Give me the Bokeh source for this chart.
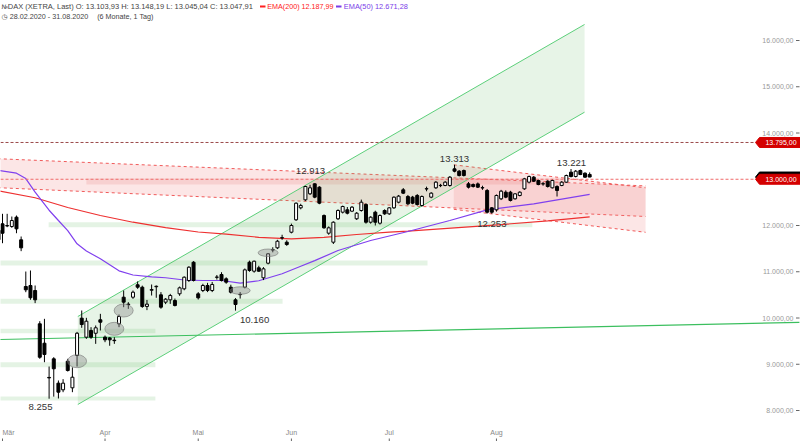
import pandas as pd
from bokeh.plotting import figure
from bokeh.models import ColumnDataSource, Range1d
from bokeh.core.properties import value
from bokeh.embed import file_html
from bokeh.resources import INLINE

# ---------------- data ----------------
HOLIDAYS = ["2020-04-10", "2020-04-13", "2020-05-01", "2020-06-01"]
dates = [d for d in pd.bdate_range("2020-02-28", "2020-08-31")
         if d.strftime("%Y-%m-%d") not in HOLIDAYS]

opens = [11700, 12036, 11990, 11978, 12180, 11690, 10681, 10703, 10594, 9874,
         9455, 8715, 9117, 8591, 8447, 9066, 8490, 9189, 9996, 9585,
         9730, 9670, 9961, 9585, 9570, 9520, 9874, 10450, 10300, 10450,
         10718, 10666, 10250, 10600, 10676, 10501, 10342, 10393, 10378, 10523,
         10631, 10811, 11206, 10522, 10594, 10703, 10594, 10880, 10940, 10847,
         10666, 10393, 10505, 10666, 11206, 11012, 11085, 10869, 11185, 11470,
         11517, 11730, 11639, 11855, 12123, 12382, 12555, 12685, 12901, 12829,
         12216, 11834, 11639, 12145, 12288, 12339, 12310, 12145, 12324, 12454,
         12071, 12288, 12050, 12324, 12252, 12382, 12504, 12771, 12627, 12613,
         12649, 12432, 12790, 12613, 12815, 12862, 12865, 12865, 13225, 13174,
         13189, 12901, 12886, 12900, 12812, 12757, 12382, 12339, 12577, 12720,
         12720, 12577, 12649, 12793, 12937, 13045, 12973, 12898, 12958, 12815,
         12843, 12865, 12937, 13153, 13059, 13189, 13131, 13103.93]
highs = [12000, 12253, 12253, 12194, 12216, 11762, 11005, 11027, 10703, 9931,
         9982, 8951, 9153, 8649, 8678, 9117, 8933, 9700, 10162, 10004,
         9802, 9838, 10090, 9621, 9585, 9585, 10076, 10594, 10342, 10594,
         10790, 10700, 10390, 10724, 10703, 10560, 10430, 10522, 10420, 10680,
         10900, 11120, 11230, 10560, 10740, 10760, 10780, 10930, 10990, 10880,
         10720, 10430, 10560, 11070, 11240, 11240, 11130, 11100, 11400, 11530,
         11690, 11800, 11680, 12040, 12500, 12470, 12860, 12880, 12913, 12850,
         12240, 11980, 12090, 12350, 12430, 12400, 12420, 12290, 12560, 12480,
         12200, 12320, 12240, 12350, 12400, 12630, 12660, 12810, 12660, 12640,
         12680, 12650, 12840, 12720, 12960, 12900, 12960, 13070, 13313, 13200,
         13210, 12940, 12910, 12930, 12860, 12790, 12400, 12670, 12770, 12760,
         12750, 12700, 12740, 13030, 13080, 13070, 12990, 12940, 12980, 12990,
         12870, 12960, 13100, 13221, 13200, 13210, 13150, 13148.19]
lows = [11620, 11617, 11964, 11950, 11833, 11445, 10558, 10393, 10321, 9118,
        9044, 8255, 8300, 8260, 8396, 8842, 8396, 8950, 9788, 9549,
        9549, 9441, 9730, 9477, 9400, 9441, 9802, 10234, 10198, 10414,
        10630, 10220, 10170, 10486, 10437, 10200, 10300, 10306, 10250, 10480,
        10600, 10780, 10790, 10400, 10560, 10560, 10560, 10830, 10790, 10740,
        10530, 10160, 10420, 10640, 11000, 10980, 11000, 10820, 11160, 11420,
        11490, 11690, 11560, 11830, 12100, 12350, 12530, 12660, 12590, 12460,
        11930, 11800, 11600, 12120, 12260, 12240, 12290, 12120, 12300, 12040,
        12040, 12000, 12020, 12230, 12230, 12360, 12480, 12680, 12440, 12460,
        12430, 12410, 12740, 12590, 12790, 12830, 12850, 12840, 13150, 13060,
        13060, 12800, 12820, 12810, 12770, 12260, 12253, 12300, 12550, 12590,
        12520, 12560, 12630, 12770, 12910, 12940, 12870, 12860, 12820, 12800,
        12627, 12850, 12920, 13040, 13040, 13090, 13030, 13045.04]
closes = [11890, 11833, 12000, 12108, 11928, 11517, 10609, 10437, 10393, 9152,
          9211, 8705, 8902, 8396, 8591, 8865, 8720, 9670, 9859, 9931,
          9585, 9788, 9909, 9528, 9528, 9510, 10032, 10342, 10290, 10558,
          10666, 10248, 10300, 10615, 10686, 10234, 10407, 10486, 10270, 10652,
          10882, 11098, 10811, 10436, 10703, 10594, 10725, 10885, 10811, 10775,
          10558, 10292, 10510, 11041, 11027, 11228, 11012, 11063, 11388, 11478,
          11660, 11738, 11589, 12000, 12482, 12432, 12843, 12815, 12613, 12483,
          11950, 11950, 12071, 12324, 12411, 12266, 12396, 12266, 12504, 12071,
          12180, 12071, 12216, 12252, 12382, 12612, 12635, 12699, 12468, 12483,
          12454, 12627, 12796, 12699, 12937, 12868, 12937, 13045, 13174, 13081,
          13081, 12829, 12843, 12829, 12818, 12288, 12288, 12649, 12742, 12613,
          12541, 12685, 12720, 13009, 13059, 12958, 12886, 12904, 12843, 12973,
          12757, 12937, 13081, 13059, 13174, 13102, 13045, 13047.91]

ema200_bar = [0, 8, 15, 22, 29, 36, 43, 49, 56, 63, 70, 77, 84, 88, 98, 108, 118, 127]
ema200_val = [12750, 12600, 12390, 12216, 12071, 11955, 11860, 11815, 11745, 11712,
              11745, 11805, 11855, 11880, 11950, 12021, 12100, 12187.99]
ema50_bar = [0, 4, 6, 8, 11, 13, 15, 17, 19, 22, 26, 29, 33, 36, 40, 44, 48, 52,
             56, 61, 65, 68, 73, 80, 88, 97, 105, 115, 127]
ema50_val = [13196, 13131, 13015, 12720, 12330, 12108, 11890, 11604, 11450, 11280,
             11020, 10930, 10890, 10870, 10822, 10811, 10811, 10753, 10805, 10956,
             11120, 11240, 11459, 11675, 11870, 12108, 12339, 12469, 12671.28]

y_ticks = [8000, 9000, 10000, 11000, 12000, 13000, 14000, 15000, 16000]
month_names = {3: "Mär", 4: "Apr", 5: "Mai", 6: "Jun", 7: "Jul", 8: "Aug"}

# analyst drawings (bar index, price)
green_channel_bar = [17.16, 125.9]
green_channel_upper = [10032, 16346]
green_channel_lower = [8130, 14450]
red_channel_bar = [0, 139.0]
red_channel_upper = [13444, 12856]
red_channel_lower = [12818, 12195]
red_channel2_bar = [97.85, 139.0]
red_channel2_upper = [13312, 12815]
red_channel2_lower = [12350, 11853]
pink_zone_bar = [19.0, 121.8]
pink_zone_val = [12886, 13016]
zone_left = [10.9, -1, -1, -1, -1, -1]
zone_right = [114.7, 92.2, 61.1, 33.8, 33.8, 33.8]
zone_top = [12071, 11243, 10415, 9766, 9044, 8303]
zone_bottom = [11963, 11135, 10307, 9671, 8936, 8216]
trend_bar = [0, 172]
trend_val = [9534, 9906]
levels = [13795, 13000]
ellipse_bar = [17, 25, 27, 52, 58]
ellipse_val = [9066, 9766, 10162, 10594, 11410]
ellipse_w_px = [19, 19, 19, 20, 20]
ellipse_h_px = [13, 13, 13, 7.5, 7.5]
ann_bar = [11, 51, 68, 98, 106, 123]
ann_kind = ["low", "low", "high", "high", "low", "high"]
ann_dbar = [-1.85, 4.1, -0.9, 0.0, 0.0, 0.1]
ann_dpx = [8.5, 9.0, 11.8, 6.0, 10.7, 6.3]

# ---------------- layout helpers (reference pixel -> data) ----------------
W, H = 800, 441
X0_PX, BAR_PX = -2.66, 4.66
Y8000_PX, PX_PER_PT = 410.0, 0.04625


def px2i(px):
    return (px - X0_PX) / BAR_PX


def py2v(py):
    return 8000 + (Y8000_PX - py) / PX_PER_PT


def dpx(px):
    return px / PX_PER_PT


def de(v, dec=2):
    s = f"{v:,.{dec}f}"
    return s.replace(",", "X").replace(".", ",").replace("X", ".")


FONT = value("Liberation Sans")

p = figure(width=W, height=H, x_range=Range1d(px2i(0), px2i(W)),
           y_range=Range1d(py2v(H), py2v(0)), toolbar_location=None,
           output_backend="svg", x_axis_location=None, y_axis_location=None,
           min_border=0, min_border_left=0, min_border_right=0,
           min_border_top=0, min_border_bottom=0)
p.xgrid.visible = False
p.ygrid.visible = False
p.outline_line_color = None
p.background_fill_color = "white"

# red channels
for bars, up, lo in [(red_channel_bar, red_channel_upper, red_channel_lower),
                     (red_channel2_bar, red_channel2_upper, red_channel2_lower)]:
    p.patch([bars[0], bars[1], bars[1], bars[0]], [up[0], up[1], lo[1], lo[0]],
            fill_color="#f08080", fill_alpha=0.2, line_color=None)
    p.line(bars, up, line_color="#f05a5a", line_dash="3 3", line_width=1)
    p.line(bars, lo, line_color="#f05a5a", line_dash="3 3", line_width=1)
p.quad(left=[pink_zone_bar[0]], right=[pink_zone_bar[1]], bottom=[pink_zone_val[0]],
       top=[pink_zone_val[1]], fill_color="#e06060", fill_alpha=0.16, line_color=None)

# green channel
gb = green_channel_bar
p.patch([gb[0], gb[1], gb[1], gb[0]],
        [green_channel_upper[0], green_channel_upper[1], green_channel_lower[1], green_channel_lower[0]],
        fill_color="#5cb85c", fill_alpha=0.15, line_color=None)
p.line(gb, green_channel_upper, line_color="#5ccf7a", line_width=1)
p.line(gb, green_channel_lower, line_color="#5ccf7a", line_width=1)

# horizontal support zones
p.quad(left=zone_left, right=zone_right, top=zone_top, bottom=zone_bottom,
       fill_color="#5cb85c", fill_alpha=0.17, line_color=None)

# EMAs
p.line(ema200_bar, ema200_val, line_color="#ee3030", line_width=1.2)
p.line(ema50_bar, ema50_val, line_color="#8040ee", line_width=1.2)

# long trend line
p.line(trend_bar, trend_val, line_color="#3cbf5f", line_width=1.2)

# horizontal levels
tag_i = px2i(755)
p.line([px2i(0), tag_i], [levels[0]] * 2, line_color="#9a4848", line_dash="3 2", line_width=1)
p.line([px2i(0), tag_i], [levels[1]] * 2, line_color="#f06a6a", line_dash="3 2", line_width=1)

# candles
idx = list(range(len(closes)))
src = ColumnDataSource(dict(
    x=idx,
    top=[max(o, c) for o, c in zip(opens, closes)],
    bottom=[min(o, c) for o, c in zip(opens, closes)],
    high=highs, low=lows,
    fill=["white" if c >= o else "black" for o, c in zip(opens, closes)],
))
p.segment(x0="x", y0="low", x1="x", y1="high", source=src, line_color="black", line_width=1)
p.vbar(x="x", width=0.64, top="top", bottom="bottom", fill_color="fill",
       line_color="black", line_width=1, source=src)

# ellipses
p.ellipse(x=ellipse_bar, y=ellipse_val,
          width=[w / BAR_PX for w in ellipse_w_px],
          height=[dpx(h) for h in ellipse_h_px],
          fill_color="#8a8a8a", fill_alpha=0.4, line_color="#777777", line_alpha=0.6)

# annotations of highs / lows
ax, ay, at = [], [], []
for b, k, db, dp in zip(ann_bar, ann_kind, ann_dbar, ann_dpx):
    if k == "low":
        v = lows[b]
        ay.append(v - dpx(dp))
    else:
        v = highs[b]
        ay.append(v + dpx(dp))
    ax.append(b + db)
    at.append(de(v, 0))
p.text(x=ax, y=ay, text=at, text_font=FONT, text_font_size="9.6px",
       text_align="center", text_baseline="middle", text_color="#333333")

# right price scale
p.text(x=[px2i(793)] * len(y_ticks), y=y_ticks, text=[de(v) for v in y_ticks],
       text_font=FONT, text_font_size="7px", text_align="right",
       text_baseline="middle", text_color="#999999")
p.segment(x0=[px2i(795.5)] * len(y_ticks), y0=y_ticks, x1=[px2i(799)] * len(y_ticks),
          y1=y_ticks, line_color="#666666", line_width=1)

# price tags
def tag(v):
    h = dpx(5)
    xs = [px2i(755), px2i(759), px2i(802), px2i(802), px2i(759)]
    ys = [v, v + h, v + h, v - h, v - h]
    return xs, ys

last_close = closes[-1]
for v, col in [(last_close, "black"), (levels[0], "#d40000"), (levels[1], "#d40000")]:
    xs, ys = tag(v)
    p.patch(xs, ys, fill_color=col, line_color=col)
p.text(x=[px2i(780.5)] * 2, y=levels, text=[de(v) for v in levels], text_font=FONT,
       text_font_size="7px", text_align="center", text_baseline="middle", text_color="white")

# month axis
m_idx, m_lab = [], []
prev = None
for i, d in enumerate(dates[:len(closes)]):
    if d.month != prev:
        if d.month in month_names and i > 0:
            m_idx.append(i)
            m_lab.append(month_names[d.month])
        prev = d.month
m_x = [max(i, px2i(0.5)) for i in m_idx]
m_align = ["left" if i < px2i(8) else "center" for i in m_idx]
p.text(x=m_x, y=[py2v(432)] * len(m_idx), text=m_lab, text_font=FONT,
       text_font_size="7px", text_align=m_align, text_baseline="middle", text_color="#888888")
p.segment(x0=m_idx, y0=[py2v(438)] * len(m_idx), x1=m_idx, y1=[py2v(441)] * len(m_idx),
          line_color="#666666", line_width=1)

# header
hdr1 = "  ".join(["DAX (XETRA, Last)", "O: " + de(opens[-1]), "H: " + de(highs[-1]),
                  "L: " + de(lows[-1]), "C: " + de(closes[-1])])
p.text(x=[px2i(7.3)], y=[py2v(6)], text=[hdr1], text_font=FONT,
       text_font_size="7.5px", text_align="left", text_baseline="middle", text_color="#444444")
p.text(x=[px2i(1.0)], y=[py2v(6)], text=["№"], text_font=value("DejaVu Sans"),
       text_font_size="6.3px", text_align="left", text_baseline="middle", text_color="#444444")
p.segment(x0=[px2i(259.5)], y0=[py2v(6)], x1=[px2i(265)], y1=[py2v(6)],
          line_color="#ff2020", line_width=2)
p.text(x=[px2i(266.7)], y=[py2v(6)], text=["EMA(200)  " + de(ema200_val[-1])],
       text_font=FONT, text_font_size="7.2px", text_align="left", text_baseline="middle",
       text_color="#ff2020")
p.segment(x0=[px2i(335.5)], y0=[py2v(6)], x1=[px2i(341)], y1=[py2v(6)],
          line_color="#7a3de8", line_width=2)
p.text(x=[px2i(343.3)], y=[py2v(6)], text=["EMA(50)  " + de(ema50_val[-1])],
       text_font=FONT, text_font_size="7.4px", text_align="left", text_baseline="middle",
       text_color="#7a3de8")
d0 = dates[0].strftime("%d.%m.%Y")
d1 = dates[len(closes) - 1].strftime("%d.%m.%Y")
p.text(x=[px2i(1.0)], y=[py2v(16)], text=["◷"], text_font=value("DejaVu Sans"),
       text_font_size="7px", text_align="left", text_baseline="middle", text_color="#444444")
p.text(x=[px2i(9.3), px2i(96.7)], y=[py2v(16)] * 2,
       text=[f"{d0} - {d1}", "(6 Monate, 1 Tag)"], text_font=FONT,
       text_font_size="7.2px", text_align="left", text_baseline="middle", text_color="#444444")

open("out.html", "w").write(file_html(p, INLINE))
